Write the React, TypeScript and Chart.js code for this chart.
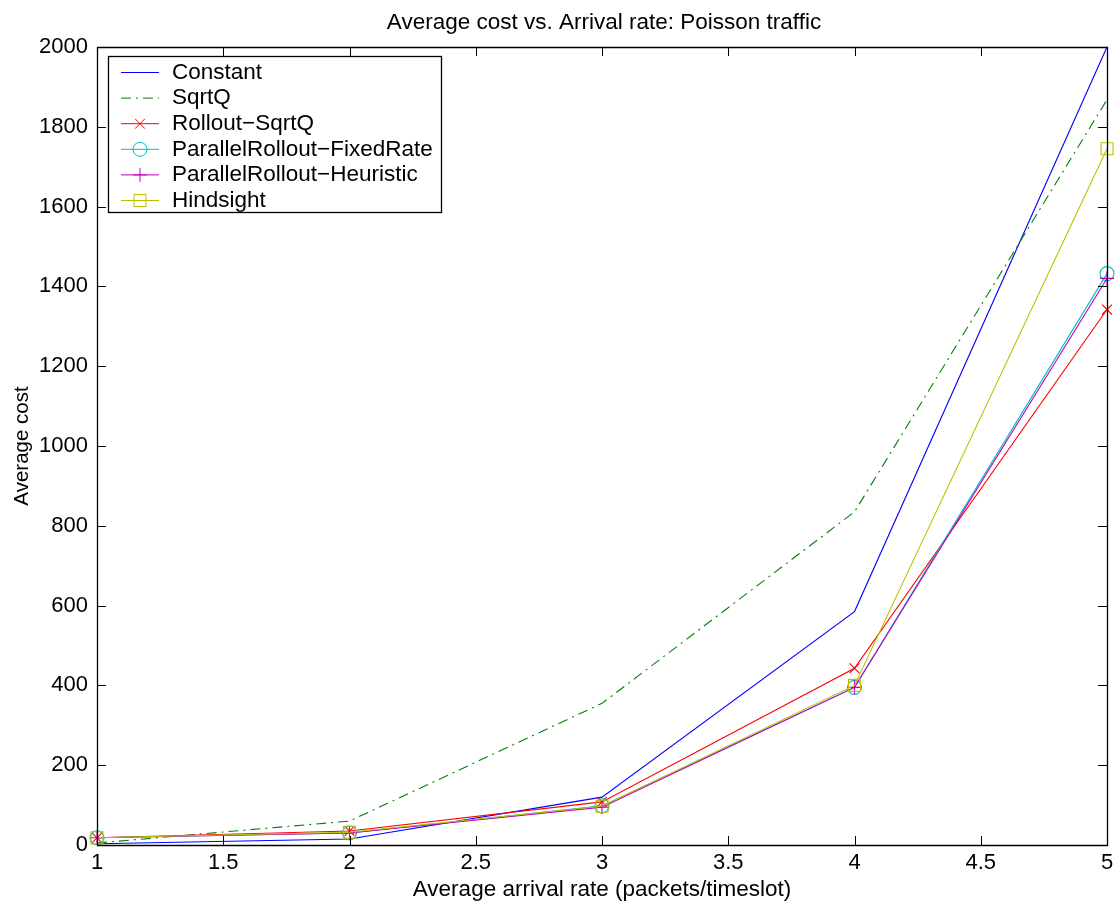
import React, { useEffect, useRef } from "react";
import { Chart, registerables } from "chart.js";

Chart.register(...registerables);

const arrivalRates = [1, 2, 3, 4, 5];
const constantCost = [3, 15, 120, 585, 2000];
const sqrtQCost = [5, 60, 355, 835, 1868];
const rolloutSqrtQCost = [18, 35, 108, 443, 1342];
const fixedRateCost = [18, 30, 98, 395, 1432];
const heuristicCost = [18, 30, 95, 395, 1420];
const hindsightCost = [18, 32, 97, 400, 1745];

const xTicks = [1, 1.5, 2, 2.5, 3, 3.5, 4, 4.5, 5];
const yTicks = [0, 200, 400, 600, 800, 1000, 1200, 1400, 1600, 1800, 2000];

const titleText = "Average cost vs. Arrival rate: Poisson traffic";
const xLabel = "Average arrival rate (packets/timeslot)";
const yLabel = "Average cost";

const FONT = "'Liberation Sans', Arial, Helvetica, sans-serif";

type SeriesDef = {
  label: string;
  values: number[];
  color: string;
  marker: string | false;
  radius: number;
  dash: number[];
};

const series: SeriesDef[] = [
  { label: "Constant", values: constantCost, color: "#0000ff", marker: false, radius: 0, dash: [] },
  { label: "SqrtQ", values: sqrtQCost, color: "#008000", marker: false, radius: 0, dash: [10, 5, 2, 5] },
  { label: "Rollout\u2212SqrtQ", values: rolloutSqrtQCost, color: "#ff0000", marker: "crossRot", radius: 7, dash: [] },
  { label: "ParallelRollout\u2212FixedRate", values: fixedRateCost, color: "#00bfbf", marker: "circle", radius: 7, dash: [] },
  { label: "ParallelRollout\u2212Heuristic", values: heuristicCost, color: "#bf00bf", marker: "cross", radius: 7, dash: [] },
  { label: "Hindsight", values: hindsightCost, color: "#bfbf00", marker: "rect", radius: 8.5, dash: [] },
];

function drawMarker(ctx: CanvasRenderingContext2D, style: string, x: number, y: number, r: number) {
  ctx.beginPath();
  if (style === "circle") {
    ctx.arc(x, y, r, 0, Math.PI * 2);
  } else if (style === "rect") {
    const s = Math.SQRT1_2 * r;
    ctx.rect(x - s, y - s, 2 * s, 2 * s);
  } else if (style === "cross") {
    ctx.moveTo(x - r, y);
    ctx.lineTo(x + r, y);
    ctx.moveTo(x, y - r);
    ctx.lineTo(x, y + r);
  } else if (style === "crossRot") {
    const o = Math.SQRT1_2 * r;
    ctx.moveTo(x - o, y - o);
    ctx.lineTo(x + o, y + o);
    ctx.moveTo(x - o, y + o);
    ctx.lineTo(x + o, y - o);
  }
  ctx.stroke();
}

const framePlugin = {
  id: "matlabFrame",
  afterDatasetsDraw(chart: any) {
    const { ctx, chartArea } = chart;
    const { left, right, top, bottom } = chartArea;
    const xs = chart.scales.x;
    const ys = chart.scales.y;
    ctx.save();
    ctx.strokeStyle = "#000";
    ctx.lineWidth = 1.3;
    ctx.setLineDash([]);
    ctx.beginPath();
    ctx.rect(Math.round(left) + 0.5, Math.round(top) + 0.5, Math.round(right - left), Math.round(bottom - top));
    ctx.stroke();
    ctx.lineWidth = 1;
    const tl = 9;
    ctx.beginPath();
    for (const v of yTicks) {
      const py = Math.round(ys.getPixelForValue(v)) + 0.5;
      ctx.moveTo(left, py);
      ctx.lineTo(left + tl, py);
      ctx.moveTo(right, py);
      ctx.lineTo(right - tl, py);
    }
    for (const v of xTicks) {
      const px = Math.round(xs.getPixelForValue(v)) + 0.5;
      ctx.moveTo(px, bottom);
      ctx.lineTo(px, bottom - tl);
      ctx.moveTo(px, top);
      ctx.lineTo(px, top + tl);
    }
    ctx.stroke();

    // title
    ctx.fillStyle = "#000";
    ctx.font = `22.5px ${FONT}`;
    ctx.textAlign = "center";
    ctx.textBaseline = "middle";
    ctx.fillText(titleText, (left + right) / 2 + 2, 23);

    // legend
    const lx = 108.5, ly = 56.5, lw = 333, lh = 156;
    ctx.fillStyle = "#fff";
    ctx.fillRect(lx, ly, lw, lh);
    ctx.strokeStyle = "#000";
    ctx.lineWidth = 1.3;
    ctx.strokeRect(lx, ly, lw, lh);
    ctx.lineWidth = 1;
    series.forEach((s, i) => {
      const cy = 72.5 + i * 25.6;
      ctx.strokeStyle = s.color;
      ctx.lineWidth = 1;
      ctx.setLineDash(s.dash);
      ctx.beginPath();
      ctx.moveTo(121, cy);
      ctx.lineTo(159, cy);
      ctx.stroke();
      ctx.setLineDash([]);
      if (s.marker) drawMarker(ctx, s.marker, 140, cy, s.radius);
      ctx.fillStyle = "#000";
      ctx.font = `22.5px ${FONT}`;
      ctx.textAlign = "left";
      ctx.textBaseline = "middle";
      ctx.fillText(s.label, 172, cy);
    });
    ctx.restore();
  },
};

export default function App() {
  const canvasRef = useRef<HTMLCanvasElement | null>(null);

  useEffect(() => {
    if (!canvasRef.current) return;
    const chart = new Chart(canvasRef.current, {
      type: "line",
      data: {
        datasets: series.map((s, i) => ({
          label: s.label,
          data: arrivalRates.map((x, j) => ({ x, y: s.values[j] })),
          borderColor: s.color,
          backgroundColor: "transparent",
          borderWidth: 1.1,
          borderDash: s.dash,
          pointStyle: s.marker || "circle",
          pointRadius: s.radius,
          pointBorderWidth: 1.1,
          pointBorderColor: s.color,
          pointBackgroundColor: "transparent",
          pointHoverRadius: s.radius,
          tension: 0,
          fill: false,
          clip: false as any,
          order: series.length - i,
        })),
      },
      options: {
        animation: false,
        responsive: true,
        maintainAspectRatio: false,
        layout: { padding: { top: 47, right: 13, left: 0, bottom: 0 } },
        plugins: {
          legend: { display: false },
          title: { display: false },
          tooltip: { enabled: false },
        },
        scales: {
          x: {
            type: "linear",
            min: 1,
            max: 5,
            grid: { display: false, drawTicks: false },
            border: { display: false },
            afterBuildTicks: (scale: any) => {
              scale.ticks = xTicks.map((v) => ({ value: v }));
            },
            afterFit: (scale: any) => {
              scale.height = 64;
            },
            ticks: {
              color: "#000",
              font: { family: FONT, size: 22 },
              padding: 5,
              maxRotation: 0,
              autoSkip: false,
              callback: (v: any) => String(v),
            },
            title: {
              display: true,
              text: xLabel,
              color: "#000",
              font: { family: FONT, size: 22.5 },
              padding: { top: 0, bottom: 6 },
            },
          },
          y: {
            type: "linear",
            min: 0,
            max: 2000,
            grid: { display: false, drawTicks: false },
            border: { display: false },
            afterBuildTicks: (scale: any) => {
              scale.ticks = yTicks.map((v) => ({ value: v }));
            },
            afterFit: (scale: any) => {
              scale.width = 97;
            },
            ticks: {
              color: "#000",
              font: { family: FONT, size: 22 },
              padding: 9,
              autoSkip: false,
              callback: (v: any) => String(v),
            },
            title: {
              display: true,
              text: yLabel,
              color: "#000",
              font: { family: FONT, size: 20.5 },
              padding: { top: 10, bottom: 0 },
            },
          },
        },
      },
      plugins: [framePlugin],
    });
    return () => chart.destroy();
  }, []);

  return (
    <div style={{ position: "fixed", left: 0, top: 0, width: 1120, height: 909, background: "#fff" }}>
      <canvas ref={canvasRef} />
    </div>
  );
}
